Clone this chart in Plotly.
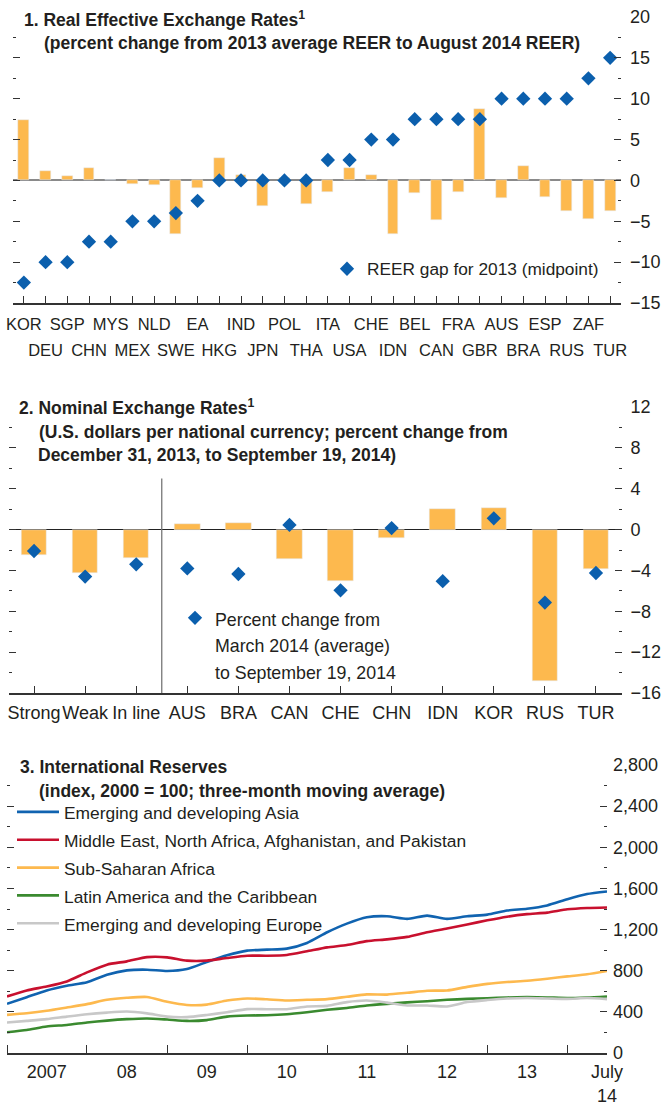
import plotly.graph_objects as go
import pandas as pd

W, H = 662, 1108


def px(x):
    return x / W


def py(y):
    return 1 - y / H


FONT = "Liberation Sans, Arial, sans-serif"
TXT = "#231f20"
ORANGE = "#fdb94e"
BLUE = "#0b5fad"


def small(text, size):
    """Wrap each line in a span so glyphs are smaller than the line spacing."""
    return "<br>".join("<span style='font-size:%spx'>%s</span>" % (size, t) for t in text.split("<br>"))


# ---------------- Panel 1 data ----------------
reer_countries = ["KOR", "DEU", "SGP", "CHN", "MYS", "MEX", "NLD", "SWE", "EA", "HKG",
                  "IND", "JPN", "POL", "THA", "ITA", "USA", "CHE", "IDN", "BEL", "CAN",
                  "FRA", "GBR", "AUS", "BRA", "ESP", "RUS", "ZAF", "TUR"]
reer_change = [7.4, 1.1, 0.5, 1.5, 0.1, -0.4, -0.5, -6.5, -0.9, 2.7,
               0.65, -3.1, 0.25, -2.85, -1.4, 1.5, 0.65, -6.6, -1.5, -4.9,
               -1.4, 8.8, -2.2, 1.8, -2.0, -3.7, -4.7, -3.7]
reer_gap = [-12.5, -10, -10, -7.5, -7.5, -5, -5, -4, -2.5, 0,
            0, 0, 0, 0, 2.5, 2.5, 5, 5, 7.5, 7.5,
            7.5, 7.5, 10, 10, 10, 10, 12.5, 15]
row1_labels = reer_countries[0::2]
row2_labels = reer_countries[1::2]

# ---------------- Panel 2 data ----------------
ner_labels = ["Strong", "Weak", "In line", "AUS", "BRA", "CAN", "CHE", "CHN", "IDN", "KOR", "RUS", "TUR"]
ner_change = [-2.5, -4.25, -2.75, 0.5, 0.6, -2.85, -5.0, -0.8, 2.0, 2.1, -14.8, -3.9]
ner_since_march = [-2.1, -4.6, -3.4, -3.8, -4.35, 0.45, -5.95, 0.15, -5.05, 1.1, -7.15, -4.25]

# ---------------- Panel 3 data (quarterly, Jan 2007 - Jul 2014) ----------------
res_dates = pd.date_range(start="2007-01-01", end="2014-07-01", freq="QS")
res_asia = [478, 543, 608, 654, 688, 761, 803, 810, 797, 816, 885, 950, 995, 1005, 1015, 1070,
            1174, 1258, 1320, 1330, 1304, 1336, 1304, 1330, 1345, 1385, 1402, 1435, 1495, 1545, 1570]
res_mena = [550, 608, 647, 696, 784, 859, 891, 932, 930, 898, 898, 924, 946, 946, 953, 989,
            1027, 1050, 1088, 1105, 1129, 1174, 1210, 1250, 1290, 1325, 1350, 1365, 1397, 1410, 1415]
res_ssa = [371, 387, 410, 442, 475, 517, 537, 545, 498, 467, 470, 510, 530, 522, 511, 517,
           524, 547, 570, 568, 585, 605, 608, 643, 672, 690, 702, 722, 745, 765, 797]
res_lac = [202, 224, 257, 273, 296, 315, 329, 336, 325, 312, 320, 354, 364, 367, 377, 397,
           420, 438, 462, 478, 492, 503, 517, 526, 533, 540, 543, 540, 535, 540, 550]
res_eur = [296, 312, 329, 354, 377, 393, 403, 385, 354, 349, 370, 397, 427, 426, 426, 452,
           458, 495, 510, 490, 462, 462, 452, 495, 515, 530, 534, 530, 526, 534, 524]
res_series = [
    ("Emerging and developing Asia", res_asia, "#1063b0"),
    ("Middle East, North Africa, Afghanistan, and Pakistan", res_mena, "#c8102e"),
    ("Sub-Saharan Africa", res_ssa, "#fdb94e"),
    ("Latin America and the Caribbean", res_lac, "#3a8a2f"),
    ("Emerging and developing Europe", res_eur, "#c8c8c8"),
]
year_ticks = ["2007-07-01", "2008-07-01", "2009-07-01", "2010-07-01", "2011-07-01",
              "2012-07-01", "2013-07-01", "2014-07-01"]
year_labels = ["2007", "08", "09", "10", "11", "12", "13", "July<br>14"]

fig = go.Figure()

# Panel 1
fig.add_trace(go.Bar(x=reer_countries, y=reer_change, marker_color=ORANGE, width=0.5,
                     showlegend=False, xaxis="x", yaxis="y"))
fig.add_trace(go.Scatter(x=reer_countries, y=reer_gap, mode="markers",
                         marker=dict(symbol="diamond", size=11, color=BLUE),
                         name="REER gap for 2013 (midpoint)", legend="legend",
                         xaxis="x4", yaxis="y"))

# Panel 2
fig.add_trace(go.Bar(x=ner_labels, y=ner_change, marker_color=ORANGE, width=0.5,
                     showlegend=False, xaxis="x2", yaxis="y2"))
fig.add_trace(go.Scatter(x=ner_labels, y=ner_since_march, mode="markers",
                         marker=dict(symbol="diamond", size=11, color=BLUE),
                         name=small("Percent change from<br>March 2014 (average)<br>to September 19, 2014", 17.8),
                         legend="legend2", xaxis="x2", yaxis="y2"))

# Panel 3
for name, vals, col in res_series:
    fig.add_trace(go.Scatter(x=res_dates, y=vals, mode="lines", name=small(name, 17.4),
                             line=dict(color=col, width=2.6, shape="spline", smoothing=0.6),
                             legend="legend3", xaxis="x3", yaxis="y3"))

yfont = dict(family=FONT, size=18, color=TXT)
xfont_small = dict(family=FONT, size=16.5, color=TXT)
xfont = dict(family=FONT, size=18, color=TXT)

common_y = dict(side="right", ticks="inside", ticklen=7, tickcolor="#333", tickwidth=1,
                mirror="ticks", showgrid=False, showline=False, tickfont=yfont,
                automargin=False, fixedrange=True)

fig.update_layout(
    width=W, height=H,
    margin=dict(l=0, r=0, t=0, b=0),
    paper_bgcolor="white", plot_bgcolor="white",
    font=dict(family=FONT, size=17, color=TXT),
    bargap=0,
    # Panel 1 axes (row 1 labels on x, row 2 labels on overlaid x4)
    xaxis=dict(domain=[px(13), px(621)], anchor="y", type="category",
               categoryorder="array", categoryarray=reer_countries,
               range=[-0.5, len(reer_countries) - 0.5],
               tickmode="array", tickvals=reer_countries,
               ticktext=[c if c in row1_labels else "" for c in reer_countries],
               ticks="inside", ticklen=7, tickcolor="#333", showline=True, linecolor="#333",
               linewidth=1.5, showgrid=False, tickfont=xfont_small, automargin=False,
               tickangle=0, ticklabelstandoff=5),
    xaxis4=dict(overlaying="x", anchor="y", side="bottom", type="category",
                categoryorder="array", categoryarray=reer_countries,
                range=[-0.5, len(reer_countries) - 0.5],
                tickmode="array", tickvals=row2_labels, ticktext=row2_labels,
                ticks="", showline=False, showgrid=False, tickfont=xfont_small,
                automargin=False, tickangle=0, ticklabelstandoff=35),
    yaxis=dict(domain=[py(303), py(17)], anchor="x", range=[-15, 20], dtick=5, tick0=0,
               minor=dict(dtick=2.5, ticks="inside", ticklen=3, tickcolor="#333"),
               zeroline=True, zerolinecolor="#8a8a8a", zerolinewidth=1.5,
               ticklabelstandoff=8, **common_y),
    # Panel 2 axes
    xaxis2=dict(domain=[px(8.5), px(621.5)], anchor="y2", type="category",
                range=[-0.5, len(ner_labels) - 0.5],
                ticks="inside", ticklen=7, tickcolor="#333", showline=True, linecolor="#333",
                linewidth=1.5, showgrid=False, tickfont=xfont, automargin=False,
                tickangle=0, ticklabelstandoff=3),
    yaxis2=dict(domain=[py(693), py(407)], anchor="x2", range=[-16, 12], dtick=4, tick0=0,
                minor=dict(dtick=2, ticks="inside", ticklen=3, tickcolor="#333"),
                zeroline=True, zerolinecolor="#222", zerolinewidth=1.3,
                ticklabelstandoff=8, **common_y),
    # Panel 3 axes
    xaxis3=dict(domain=[px(7), px(607)], anchor="y3", type="date",
                range=["2007-01-01", "2014-07-01"],
                tickmode="array", tickvals=year_ticks, ticktext=year_labels, ticks="",
                minor=dict(ticks="inside", ticklen=8, dtick="M12", tick0="2007-01-01",
                           tickcolor="#333", showgrid=False),
                showline=True, linecolor="#333", linewidth=1.5, showgrid=False,
                tickfont=xfont, automargin=False, tickangle=0, ticklabelstandoff=2),
    yaxis3=dict(domain=[py(1053), py(765)], anchor="x3", range=[0, 2800], dtick=400, tick0=0,
                tickformat=",d",
                minor=dict(dtick=200, ticks="inside", ticklen=3, tickcolor="#333"),
                zeroline=False, ticklabelstandoff=5, **common_y),
    legend=dict(x=px(327), y=py(251), xanchor="left", yanchor="top",
                bgcolor="rgba(0,0,0,0)", font=dict(family=FONT, size=17.3, color=TXT)),
    legend2=dict(x=px(175), y=py(598), xanchor="left", yanchor="top", valign="top",
                 bgcolor="rgba(0,0,0,0)", font=dict(family=FONT, size=20.5, color=TXT)),
    legend3=dict(x=px(12), y=py(793), xanchor="left", yanchor="top", itemwidth=42,
                 tracegroupgap=0,
                 bgcolor="rgba(0,0,0,0)", font=dict(family=FONT, size=19.1, color=TXT)),
    showlegend=True,
)

# Separator line in panel 2 between group averages and countries
fig.add_shape(type="line", xref="x2", yref="y2", x0=2.5, x1=2.5, y0=-16, y1=5,
              line=dict(color="#777", width=1.3))

# Titles
titles = [
    ("<b>1. Real Effective Exchange Rates<sup>1</sup></b>", 22, 19),
    ("<b>(percent change from 2013 average REER to August 2014 REER)</b>", 42, 43),
    ("<b>2. Nominal Exchange Rates<sup>1</sup></b>", 17, 407),
    ("<b>(U.S. dollars per national currency; percent change from</b>", 37, 432),
    ("<b>December 31, 2013, to September 19, 2014)</b>", 36, 455),
    ("<b>3. International Reserves</b>", 18, 767),
    ("<b>(index, 2000 = 100; three-month moving average)</b>", 37, 791),
]
for text, x, y in titles:
    fig.add_annotation(text=text, x=px(x), y=py(y), xref="paper", yref="paper",
                       xanchor="left", yanchor="middle", showarrow=False,
                       font=dict(family=FONT, size=17.5, color=TXT))

fig.write_html("out.html", config={"displayModeBar": False},
               post_script="document.body.style.margin='0';document.body.style.padding='0';")
